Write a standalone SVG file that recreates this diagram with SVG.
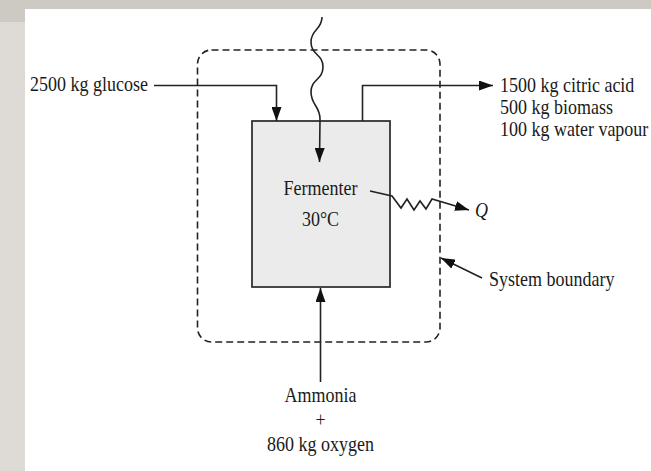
<svg xmlns="http://www.w3.org/2000/svg" width="651" height="471" viewBox="0 0 651 471">
<style>
text { font-family: "Liberation Serif", "Times New Roman", serif; font-size: 18px; fill: #1a1a1a; }
.ln { fill: none; stroke: #222; stroke-width: 1.6; }
.bd { fill: none; stroke: #222; stroke-width: 1.6; stroke-dasharray: 7 4; }
</style>
<defs>
<marker id="ah" viewBox="0 0 14 10" refX="14" refY="5" markerWidth="14" markerHeight="10" markerUnits="userSpaceOnUse" orient="auto">
<path d="M0,0 L14,5 L0,10 Z" fill="#111"/>
</marker>
</defs>
<rect x="0" y="0" width="651" height="471" fill="#ffffff"/>
<rect x="0" y="0" width="651" height="9" fill="#cdcac4"/>
<rect x="0" y="0" width="25" height="22" fill="#cdcac4"/>
<rect x="0" y="22" width="25" height="449" fill="#dedbd6"/>

<g id="boundary">
<rect class="bd" x="197.5" y="50" width="242.5" height="292" rx="14" ry="14"/>
</g>

<g id="fermenter">
<rect x="252" y="121" width="138" height="166" fill="#ebebeb" stroke="#333" stroke-width="1.8"/>
<text transform="translate(320.5,195) scale(1,1.22)" text-anchor="middle">Fermenter</text>
<text transform="translate(320.5,226) scale(1,1.22)" text-anchor="middle">30°C</text>
</g>

<g id="connectors">
<path class="ln" d="M154,85.5 L276.5,85.5 L276.5,121" marker-end="url(#ah)"/>
<path class="ln" d="M362.5,121 L362.5,85.5 L493,85.5" marker-end="url(#ah)"/>
<path class="ln" d="M322,17 C322,30 311,29 311,42 C311,55 323,54 323,67 C323,80 311,79 311,92 C311,105 320,106 320,119 L319.5,162" marker-end="url(#ah)" stroke-width="1.3"/>
<path class="ln" d="M370,191 L392,196 L401,208 L407,199 L414,210 L420,201 L426,209 L432,199 L469,210" marker-end="url(#ah)" stroke-width="1.3"/>
<path class="ln" d="M320.5,382 L320.5,288" marker-end="url(#ah)"/>
<path class="ln" d="M482,278 L441,258" marker-end="url(#ah)"/>
</g>

<g id="glucose">
<text transform="translate(30,91) scale(1,1.22)">2500 kg glucose</text>
</g>
<g id="products">
<text transform="translate(500,92) scale(1,1.22)">1500 kg citric acid</text>
<text transform="translate(500,114) scale(1,1.22)">500 kg biomass</text>
<text transform="translate(500,136) scale(1,1.22)">100 kg water vapour</text>
</g>
<g id="heat">
<text transform="translate(475,217) scale(1,1.22)" font-style="italic">Q</text>
</g>
<g id="system-label">
<text transform="translate(489,286) scale(1,1.22)">System boundary</text>
</g>
<g id="feed">
<text transform="translate(320.5,402) scale(1,1.22)" text-anchor="middle">Ammonia</text>
<text transform="translate(320.5,427) scale(1,1.22)" text-anchor="middle">+</text>
<text transform="translate(320.5,451) scale(1,1.22)" text-anchor="middle">860 kg oxygen</text>
</g>
</svg>
